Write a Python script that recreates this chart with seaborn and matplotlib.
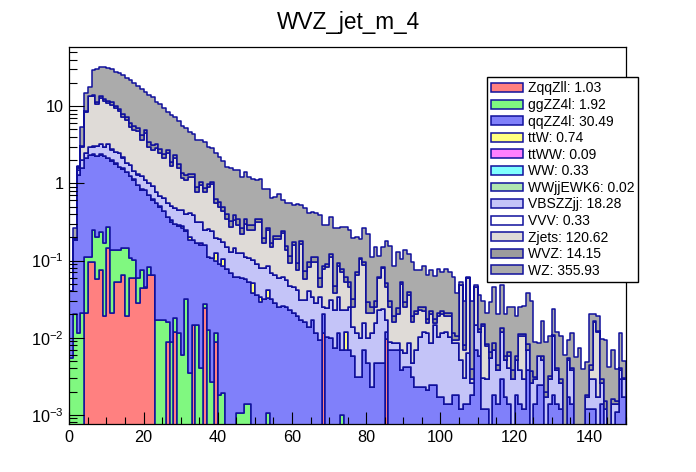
import numpy as np
import pandas as pd
import matplotlib
matplotlib.use("Agg")
import matplotlib.pyplot as plt
from matplotlib.patches import Patch
from matplotlib.ticker import FixedLocator, FixedFormatter, MultipleLocator, LogLocator, NullFormatter
import seaborn as sns

plt.rcParams['font.family'] = ['Liberation Sans', 'DejaVu Sans']
plt.rcParams['mathtext.default'] = 'regular'

# ---- data: events per 1-unit bin of jet mass, 0..150 ----
n_bins = 150
bin_edges = list(range(0, n_bins + 1))

WZ = [
    0, 0.072, 0.096, 2.21, 6.24, 3.94, 15.46, 18.53, 18.53, 19.68,
    19.3, 18.82, 17.86, 17.28, 17.09, 15.7, 15.98, 14.54, 12.77, 12.33,
    10.56, 10.56, 9.87, 8.29, 7.91, 6.99, 5.57, 5.71, 4.9, 4.64,
    4.25, 3.93, 3.26, 2.98, 2.81, 2.56, 2.52, 2.01, 1.80, 1.83,
    1.63, 1.45, 1.25, 1.245, 1.114, 1.16, 0.94, 1.06, 0.915, 0.86,
    0.75, 0.80, 0.642, 0.575, 0.471, 0.45, 0.51, 0.369, 0.408, 0.447,
    0.355, 0.446, 0.351, 0.406, 0.314, 0.31, 0.30, 0.331, 0.204, 0.199,
    0.248, 0.213, 0.168, 0.197, 0.208, 0.197, 0.163, 0.13, 0.083, 0.165,
    0.191, 0.087, 0.12, 0.054, 0.068, 0.129, 0.125, 0.066, 0.106, 0.053,
    0.106, 0.081, 0.076, 0.053, 0.05, 0.06, 0.0476, 0.053, 0.0456, 0.057,
    0.048, 0.057, 0.049, 0.0506, 0.0276, 0.004, 0.022, 0.002, 0.0261, 0.002,
    0.023, 0.015, 0.0128, 0.0225, 0.0375, 0.0156, 0.0346, 0.0142, 0.0185, 0.0212,
    0.0132, 0.014, 0.015, 0.0298, 0.0263, 0.0058, 0.0027, 0.0109, 0.0067, 0.0073,
    0.0126, 0.0079, 0.0075, 0.0058, 0.0039, 0.0075, 0.0054, 0.007, 0.0037, 0.0031,
    0.0156, 0.0038, 0.0067, 0.0066, 0.0078, 0.004, 0.0054, 0.0024, 0.0073, 0.002,
]

WVZ = [
    0, 0.003, 0.004, 0.09, 0.26, 0.16, 0.64, 0.77, 0.77, 0.82,
    0.80, 0.78, 0.74, 0.72, 0.71, 0.65, 0.67, 0.61, 0.53, 0.51,
    0.44, 0.44, 0.41, 0.35, 0.33, 0.29, 0.23, 0.24, 0.20, 0.19,
    0.18, 0.16, 0.14, 0.12, 0.12, 0.11, 0.10, 0.08, 0.07, 0.08,
    0.07, 0.06, 0.05, 0.05, 0.05, 0.05, 0.04, 0.04, 0.04, 0.04,
    0.03, 0.03, 0.03, 0.02, 0.02, 0.02, 0.02, 0.015, 0.017, 0.019,
    0.015, 0.019, 0.015, 0.017, 0.013, 0.013, 0.013, 0.014, 0.009, 0.008,
    0.01, 0.009, 0.007, 0.008, 0.009, 0.008, 0.007, 0.005, 0.003, 0.007,
    0.008, 0.004, 0.005, 0.002, 0.003, 0.005, 0.005, 0.003, 0.004, 0.002,
    0.004, 0.003, 0.003, 0.002, 0.002, 0.003, 0.002, 0.002, 0.002, 0.002,
    0.002, 0.002, 0.002, 0.002, 0.001, 0, 0.001, 0, 0.001, 0,
    0.001, 0.001, 0.0005, 0.001, 0.0015, 0.0006, 0.0014, 0.0006, 0.0008, 0.0009,
    0.0006, 0.0006, 0.0006, 0.0012, 0.0011, 0.0002, 0.0001, 0.0005, 0.0003, 0.0003,
    0.0005, 0.0003, 0.0003, 0.0002, 0.0002, 0.0003, 0.0002, 0.0003, 0.0002, 0.0001,
    0.0006, 0.0002, 0.0003, 0.0003, 0.0003, 0.0002, 0.0002, 0.0001, 0.0003, 0.0001,
]

Zjets = [
    0, 0, 0.1, 1.0, 6.04, 10.45, 10.45, 7.7, 9.54, 8.55,
    7.74, 7.68, 6.9, 6.04, 5.08, 4.82, 3.66, 3.43, 3.41, 2.43,
    3.39, 1.98, 1.81, 2.08, 1.79, 1.48, 1.95, 1.15, 1.62, 1.12,
    0.72, 0.72, 0.79, 0.81, 0.45, 0.62, 0.53, 0.655, 0.74, 0.356,
    0.31, 0.264, 0.199, 0.148, 0.191, 0.166, 0.096, 0.188, 0.138, 0.148,
    0.23, 0.241, 0.089, 0.16, 0.081, 0.125, 0.131, 0.165, 0.079, 0.047,
    0.115, 0.033, 0.133, 0.026, 0.043, 0.063, 0.069, 0.011, 0.052, 0.059,
    0.081, 0.015, 0.051, 0.047, 0.03, 0.02, 0.0111, 0.0534, 0.0942, 0.0726,
    0.0112, 0.0096, 0.0096, 0.036, 0.0555, 0.029, 0.0161, 0.0075, 0.0115, 0.0431,
    0.0187, 0.0275, 0.0113, 0.0131, 0.0127, 0.01, 0.004, 0.0115, 0.0008, 0.0087,
    0.0086, 0.007, 0.0087, 0.0009, 0.0009, 0.0428, 0.004, 0.0537, 0.0003, 0.0314,
    0, 0.011, 0.0048, 0, 0, 0, 0, 0, 0.0017, 0,
    0, 0.0066, 0.0075, 0, 0, 0, 0, 0, 0, 0,
    0, 0, 0, 0, 0, 0, 0, 0, 0, 0,
    0.0009, 0.0131, 0.0103, 0, 0, 0, 0, 0, 0, 0,
]

VBSZZjj = [
    0, 0.005, 0.2, 0.4, 0.36, 0.61, 0.61, 0.77, 0.82, 0.68,
    1.04, 0.75, 0.71, 0.84, 0.59, 0.41, 0.46, 0.31, 0.33, 0.41,
    0.29, 0.31, 0.30, 0.23, 0.17, 0.20, 0.18, 0.18, 0.18, 0.17,
    0.17, 0.15, 0.21, 0.205, 0.152, 0.15, 0.09, 0.143, 0.133, 0.069,
    0.10, 0.071, 0.074, 0.059, 0.083, 0.063, 0.065, 0.055, 0.054, 0.051,
    0.054, 0.045, 0.047, 0.043, 0.036, 0.037, 0.034, 0.035, 0.031, 0.024,
    0.024, 0.023, 0.014, 0.015, 0.0263, 0.017, 0.0166, 0.0246, 0.005, 0.0137,
    0.0211, 0.0157, 0.0226, 0.0161, 0.0111, 0.0181, 0.0082, 0.0085, 0.0067, 0.0085,
    0.0051, 0.0091, 0.0107, 0.0183, 0.0188, 0.005, 0.002, 0.0016, 0.0016, 0.0031,
    0.0021, 0.0043, 0.0016, 0.0046, 0.008, 0.0097, 0.0093, 0.0061, 0.0122, 0.0086,
    0.0097, 0.0106, 0.0089, 0.0067, 0.0067, 0.004, 0.0016, 0.0049, 0.0008, 0.0077,
    0.0063, 0.0018, 0.0017, 0.0055, 0.0052, 0.0024, 0.0091, 0.0035, 0.0026, 0.0029,
    0.0034, 0.0024, 0.0017, 0.0032, 0.0026, 0.0015, 0.0033, 0.0028, 0.0017, 0.0015,
    0.0086, 0.0024, 0.0014, 0, 0.0035, 0.0024, 0, 0, 0, 0.0005,
    0.0017, 0.0017, 0.0017, 0.0012, 0.0012, 0, 0.0014, 0.0003, 0.0009, 0.0012,
]

qqZZ4l = [
    0.0345, 0.165, 1.29, 1.58, 1.99, 2.23, 2.10, 2.03, 2.10, 2.10,
    1.845, 1.835, 1.65, 1.48, 1.385, 1.275, 1.123, 1.008, 0.901, 0.745,
    0.774, 0.627, 0.545, 0.533, 0.483, 0.423, 0.354, 0.311, 0.282, 0.269,
    0.254, 0.208, 0.182, 0.170, 0.153, 0.156, 0.133, 0.0995, 0.104, 0.088,
    0.088, 0.083, 0.077, 0.068, 0.062, 0.060, 0.058, 0.056, 0.052, 0.038,
    0.036, 0.029, 0.032, 0.032, 0.032, 0.028, 0.025, 0.026, 0.025, 0.023,
    0.021, 0.019, 0.017, 0.016, 0.0137, 0.017, 0.0114, 0.0094, 0.0086, 0.0103,
    0.0099, 0.0073, 0.0114, 0.0059, 0.0069, 0.0069, 0.0057, 0.0031, 0.0031, 0.0069,
    0.0047, 0.0023, 0.0047, 0.0047, 0.0047, 0.0024, 0.0069, 0.0069, 0.0069, 0.0038,
    0.0042, 0.0042, 0.0031, 0.0023, 0.0023, 0.0023, 0.0021, 0.0024, 0.0024, 0.0017,
    0.0017, 0.0014, 0.0014, 0.0018, 0.0018, 0.0012, 0.0014, 0.0014, 0.0018, 0.0069,
    0.0057, 0.0012, 0.0012, 0, 0.0018, 0.0014, 0.0029, 0.0017, 0.0014, 0,
    0.0018, 0.0014, 0.0012, 0.0038, 0, 0.0014, 0.0024, 0.0024, 0, 0.0014,
    0.0018, 0.0014, 0.0012, 0, 0.0017, 0.0014, 0, 0, 0, 0.0012,
    0.0012, 0.0012, 0, 0.0014, 0, 0, 0, 0.0011, 0.0029, 0.0017,
]

# sparse samples: {bin index: events}
ggZZ4l = {0: 0.0055, 1: 0.02, 2: 0.0115, 3: 0.021, 4: 0.091, 5: 0.015, 6: 0.148,
          7: 0.147, 8: 0.162, 9: 0.149, 10: 0.13, 11: 0.114, 12: 0.084, 13: 0.084,
          14: 0.08, 15: 0.126, 16: 0.048, 17: 0.043, 18: 0.031, 19: 0.031, 20: 0.002,
          21: 0.018, 23: 0.017, 24: 0.017, 25: 0.017, 26: 0.0071, 27: 0.0089, 28: 0.006,
          29: 0.0114, 30: 0.006, 31: 0.032, 32: 0.0035, 34: 0.0146, 35: 0.004, 36: 0.003,
          37: 0.0125, 38: 0.0027, 39: 0.0027, 40: 0.0018, 41: 0.0019, 45: 0.00105,
          46: 0.00105, 47: 0.0014, 48: 0.0014, 53: 0.00105, 73: 0.001}
ZqqZll = {4: 0.021, 5: 0.097, 6: 0.097, 7: 0.057, 8: 0.075, 9: 0.019, 10: 0.145,
          11: 0.021, 12: 0.053, 13: 0.053, 14: 0.065, 15: 0.019, 16: 0.059, 17: 0.059,
          18: 0.028, 19: 0.044, 20: 0.044, 21: 0.065, 22: 0.065, 26: 0.0089, 28: 0.012,
          33: 0.0146, 36: 0.024, 39: 0.0089, 68: 0.0114, 85: 0.0096}
ttW = {30: 0.02, 32: 0.015, 39: 0.025, 41: 0.02, 49: 0.013, 51: 0.005, 53: 0.009, 74: 0.005}
ttWW = {9: 0.02, 13: 0.02, 17: 0.015, 24: 0.01, 35: 0.008}
WW = {6: 0.03, 8: 0.04, 10: 0.03, 12: 0.04, 14: 0.03, 16: 0.03, 19: 0.02, 22: 0.02,
      27: 0.015, 31: 0.01}
WWjjEWK6 = {11: 0.008, 20: 0.006, 29: 0.004}
VVV = {5: 0.02, 6: 0.03, 7: 0.02, 8: 0.03, 9: 0.02, 10: 0.03, 11: 0.02, 12: 0.02,
       13: 0.02, 14: 0.015, 15: 0.02, 16: 0.015, 17: 0.01, 18: 0.015, 19: 0.01}

# legend order (= bottom of the stack first) and the yields printed in the legend
processes = ['ZqqZll', 'ggZZ4l', 'qqZZ4l', 'ttW', 'ttWW', 'WW', 'WWjjEWK6',
             'VBSZZjj', 'VVV', 'Zjets', 'WVZ', 'WZ']
yields = [1.03, 1.92, 30.49, 0.74, 0.09, 0.33, 0.02, 18.28, 0.33, 120.62, 14.15, 355.93]

x_ticks = [0, 20, 40, 60, 80, 100, 120, 140]
y_ticks = [1e-3, 1e-2, 1e-1, 1, 10]
y_tick_labels = ['$10^{-3}$', '$10^{-2}$', '$10^{-1}$', '1', '10']

colors = {
    'ZqqZll': '#ff8080', 'ggZZ4l': '#80f880', 'qqZZ4l': '#8080fa', 'ttW': '#ffff80',
    'ttWW': '#ff80ff', 'WW': '#80ffff', 'WWjjEWK6': '#b0e6b0', 'VBSZZjj': '#c4c4f8',
    'VVV': '#ffffff', 'Zjets': '#dfdbd7', 'WVZ': '#9c9c9c', 'WZ': '#ababab',
}
edge = '#10109c'


def to_bins(d):
    a = np.zeros(n_bins)
    for k, v in d.items():
        a[k] = v
    return a


series = {
    'ZqqZll': to_bins(ZqqZll), 'ggZZ4l': to_bins(ggZZ4l), 'qqZZ4l': np.array(qqZZ4l),
    'ttW': to_bins(ttW), 'ttWW': to_bins(ttWW), 'WW': to_bins(WW),
    'WWjjEWK6': to_bins(WWjjEWK6), 'VBSZZjj': np.array(VBSZZjj), 'VVV': to_bins(VVV),
    'Zjets': np.array(Zjets), 'WVZ': np.array(WVZ), 'WZ': np.array(WZ),
}

centers = np.arange(n_bins) + 0.5
df = pd.concat([pd.DataFrame({'jet_m': centers, 'events': series[p], 'process': p})
                for p in processes], ignore_index=True)

fig = plt.figure(figsize=(6.96, 4.72), dpi=100)
ax = fig.add_axes([69.3 / 696, 48 / 472, (626 - 69.3) / 696, (424 - 47.3) / 472])

# seaborn puts the first hue level on top of the stack
sns.histplot(data=df, x='jet_m', weights='events', hue='process',
             hue_order=processes[::-1], palette=colors, bins=bin_edges,
             multiple='stack', element='step', fill=True, alpha=1,
             edgecolor=edge, linewidth=1.1, legend=False, ax=ax)

ax.set_yscale('log')
ax.set_xlim(0, 150)
ax.set_ylim(7.6e-4, 58)
ax.set_xlabel('')
ax.set_ylabel('')

ax.xaxis.set_major_locator(FixedLocator(x_ticks))
ax.xaxis.set_major_formatter(FixedFormatter([str(t) for t in x_ticks]))
ax.xaxis.set_minor_locator(MultipleLocator(5))
ax.yaxis.set_major_locator(FixedLocator(y_ticks))
ax.yaxis.set_major_formatter(FixedFormatter(y_tick_labels))
ax.yaxis.set_minor_locator(LogLocator(base=10, subs=np.arange(2, 10)))
ax.yaxis.set_minor_formatter(NullFormatter())

ax.tick_params(which='both', direction='in', top=False, right=False, width=0.8)
ax.tick_params(axis='x', which='major', length=8.4, labelsize=11.7, pad=4)
ax.tick_params(axis='x', which='minor', length=4.8)
ax.tick_params(axis='y', which='major', length=10.8, labelsize=11.7, pad=4)
ax.tick_params(axis='y', which='minor', length=5.8)
for s in ax.spines.values():
    s.set_linewidth(0.9)

handles = [Patch(facecolor=colors[p], edgecolor=edge, linewidth=1.1,
                 label=f'{p}: {y:.2f}') for p, y in zip(processes, yields)]
leg = ax.legend(handles=handles, loc='upper left',
                bbox_to_anchor=(487.3 / 696, 1 - 77.3 / 472),
                bbox_transform=fig.transFigure, fontsize=10, frameon=True,
                fancybox=False, framealpha=1, edgecolor='black', borderpad=0.3,
                handlelength=2.28, handleheight=0.6, handletextpad=0.32,
                labelspacing=0.185, borderaxespad=0)
leg.get_frame().set_linewidth(1.0)

fig.text(0.5, 1 - 22 / 472, 'WVZ_jet_m_4', ha='center', va='center', fontsize=16.3)

fig.savefig('out.png', dpi=100)
